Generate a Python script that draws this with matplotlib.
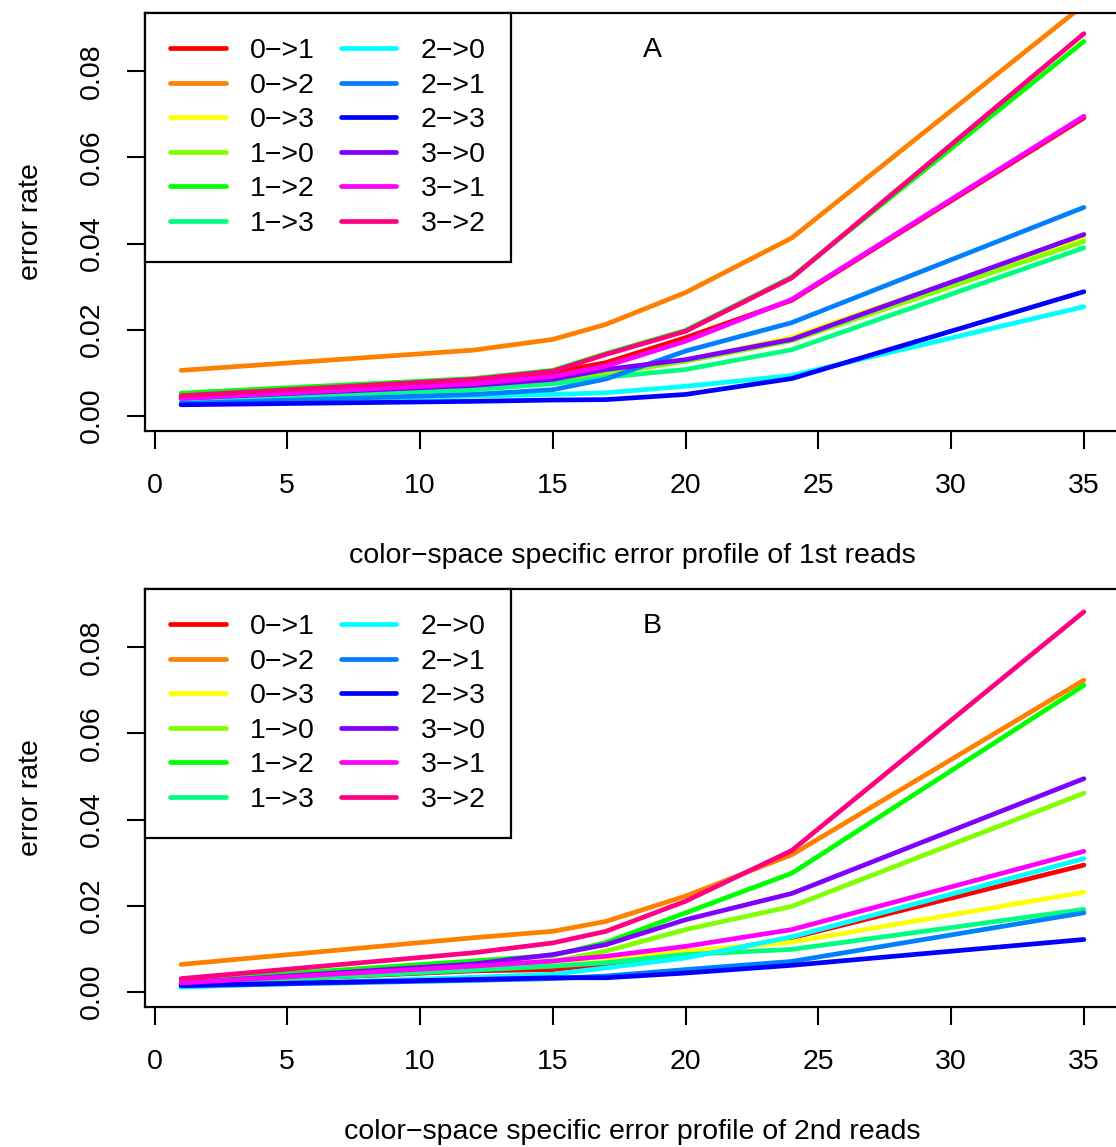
import matplotlib
matplotlib.use("Agg")
import matplotlib.pyplot as plt

plt.rcParams['font.family'] = ['Liberation Sans', 'DejaVu Sans']

# read position (cycle)
pos = [1, 12, 15, 17, 20, 24, 35]

labels = ["0\u2212>1", "0\u2212>2", "0\u2212>3", "1\u2212>0", "1\u2212>2", "1\u2212>3",
          "2\u2212>0", "2\u2212>1", "2\u2212>3", "3\u2212>0", "3\u2212>1", "3\u2212>2"]
# R rainbow(12)
colors = ["#FF0000", "#FF8000", "#FFFF00", "#80FF00", "#00FF00", "#00FF80",
          "#00FFFF", "#0080FF", "#0000FF", "#8000FF", "#FF00FF", "#FF0080"]

# 1st reads
r1_01 = [0.0042, 0.0080, 0.0100, 0.0123, 0.0181, 0.0268, 0.0692]
r1_02 = [0.0105, 0.0152, 0.0177, 0.0212, 0.0286, 0.0413, 0.0955]
r1_03 = [0.0036, 0.0066, 0.0080, 0.0095, 0.0128, 0.0182, 0.0416]
r1_10 = [0.0045, 0.0068, 0.0082, 0.0097, 0.0126, 0.0174, 0.0405]
r1_12 = [0.0052, 0.0086, 0.0105, 0.0144, 0.0198, 0.0322, 0.0870]
r1_13 = [0.0038, 0.0060, 0.0074, 0.0089, 0.0107, 0.0153, 0.0390]
r1_20 = [0.0031, 0.0045, 0.0049, 0.0053, 0.0068, 0.0093, 0.0253]
r1_21 = [0.0028, 0.0049, 0.0060, 0.0085, 0.0150, 0.0216, 0.0484]
r1_23 = [0.0025, 0.0033, 0.0036, 0.0037, 0.0049, 0.0086, 0.0288]
r1_30 = [0.0040, 0.0070, 0.0084, 0.0107, 0.0130, 0.0177, 0.0421]
r1_31 = [0.0040, 0.0074, 0.0091, 0.0115, 0.0173, 0.0270, 0.0696]
r1_32 = [0.0046, 0.0084, 0.0103, 0.0142, 0.0196, 0.0320, 0.0888]

# 2nd reads
r2_01 = [0.0018, 0.0048, 0.0051, 0.0064, 0.0080, 0.0125, 0.0294]
r2_02 = [0.0063, 0.0125, 0.0140, 0.0163, 0.0222, 0.0318, 0.0724]
r2_03 = [0.0018, 0.0052, 0.0067, 0.0071, 0.0094, 0.0115, 0.0231]
r2_10 = [0.0020, 0.0056, 0.0070, 0.0094, 0.0144, 0.0198, 0.0461]
r2_12 = [0.0025, 0.0071, 0.0084, 0.0114, 0.0183, 0.0275, 0.0712]
r2_13 = [0.0017, 0.0050, 0.0059, 0.0067, 0.0086, 0.0098, 0.0191]
r2_20 = [0.0010, 0.0033, 0.0040, 0.0055, 0.0078, 0.0127, 0.0309]
r2_21 = [0.0013, 0.0026, 0.0030, 0.0036, 0.0051, 0.0070, 0.0183]
r2_23 = [0.0014, 0.0028, 0.0032, 0.0032, 0.0043, 0.0061, 0.0121]
r2_30 = [0.0020, 0.0064, 0.0086, 0.0109, 0.0167, 0.0228, 0.0495]
r2_31 = [0.0020, 0.0059, 0.0071, 0.0082, 0.0105, 0.0144, 0.0326]
r2_32 = [0.0030, 0.0090, 0.0113, 0.0140, 0.0210, 0.0328, 0.0883]

first = [r1_01, r1_02, r1_03, r1_10, r1_12, r1_13, r1_20, r1_21, r1_23, r1_30, r1_31, r1_32]
second = [r2_01, r2_02, r2_03, r2_10, r2_12, r2_13, r2_20, r2_21, r2_23, r2_30, r2_31, r2_32]

W, H = 1116, 1147
FS = 20.5
fig = plt.figure(figsize=(W / 100, H / 100), dpi=100)


def panel(top_px, series, tag, xlabel):
    ax = fig.add_axes([145 / W, 1 - (top_px + 418) / H, 975 / W, 418 / H])
    for vals, c, lab in zip(series, colors, labels):
        ax.plot(pos, vals, color=c, lw=3.4, solid_capstyle='round',
                solid_joinstyle='round', label=lab)
    ax.set_xlim(-0.36, 36.36)
    ax.set_ylim(-0.0036, 0.0936)
    ax.set_xticks([0, 5, 10, 15, 20, 25, 30, 35])
    ax.set_yticks([0.0, 0.02, 0.04, 0.06, 0.08])
    ax.set_yticklabels(["0.00", "0.02", "0.04", "0.06", "0.08"], rotation=90, va='center')
    for s in ax.spines.values():
        s.set_linewidth(1.6)
    ax.tick_params(direction='out', length=13, width=1.5, labelsize=FS)
    ax.tick_params(axis='x', pad=17)
    ax.tick_params(axis='y', pad=16)
    ax.set_xlabel(xlabel, fontsize=FS, labelpad=32)
    ax.set_ylabel("error rate", fontsize=FS, labelpad=25)
    leg = ax.legend(loc='upper left', bbox_to_anchor=(0, 1), ncol=2, fontsize=FS,
                    frameon=True, fancybox=False, edgecolor='black', framealpha=1,
                    borderaxespad=0, handlelength=1.96, handletextpad=0.85,
                    columnspacing=0.9, labelspacing=0.3, borderpad=0.88)
    leg.get_frame().set_linewidth(1.6)
    for h in leg.get_lines():
        h.set_linewidth(3.4)
    ax.text(0.52, 0.9115, tag, transform=ax.transAxes, fontsize=FS,
            ha='center', va='center')
    return ax


panel(13, first, "A", "color\u2212space specific error profile of 1st reads")
panel(589, second, "B", "color\u2212space specific error profile of 2nd reads")

fig.savefig("out.png", dpi=100)
